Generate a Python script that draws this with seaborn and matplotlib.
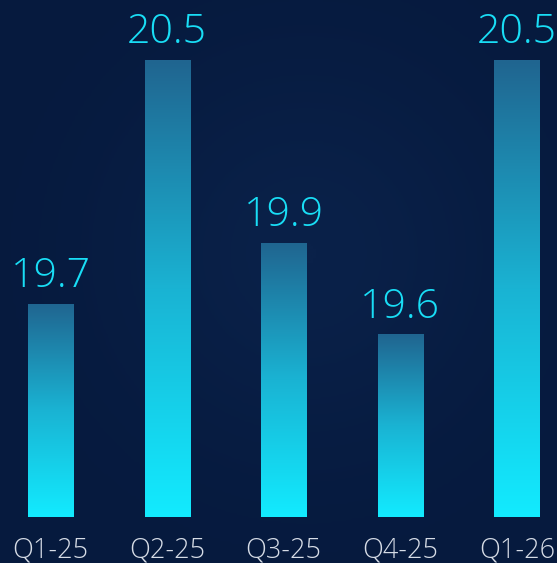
import numpy as np
import pandas as pd
import matplotlib
matplotlib.use("Agg")
import matplotlib.pyplot as plt
import seaborn as sns
from matplotlib.colors import LinearSegmentedColormap

categories = ["Q1-25", "Q2-25", "Q3-25", "Q4-25", "Q1-26"]
values = [19.7, 20.5, 19.9, 19.6, 20.5]
value_labels = ["19.7", "20.5", "19.9", "19.6", "20.5"]
baseline = 19.0

sns.set_theme(style="white")
plt.rcParams['font.family'] = ['Open Sans', 'DejaVu Sans']

bg = "#081d44"
fig = plt.figure(figsize=(5.57, 5.63), dpi=100, facecolor=bg)
# subtle background gradient
bgax = fig.add_axes([0, 0, 1, 1], zorder=-1)
yy, xx = np.mgrid[0:1:200j, 0:1:200j]
g = np.exp(-((xx - 0.55) ** 2 + (yy - 0.45) ** 2) / 0.12)
bgcmap = LinearSegmentedColormap.from_list("bg", ["#061a3e", "#0a2149"])
bgax.imshow(g, cmap=bgcmap, aspect="auto", extent=[0, 1, 0, 1], vmin=0, vmax=1)
bgax.axis("off")

ax = fig.add_axes([0, 46 / 563, 1, 517 / 563])
ax.set_facecolor("none")
df = pd.DataFrame({"cat": categories, "val": values})
sns.barplot(data=df, x="cat", y="val", ax=ax, width=0.386, color="#1a9fc8",
            saturation=1, edgecolor="none")

cmap = LinearSegmentedColormap.from_list("bar", ["#12ebff", "#1ab3d3", "#206590"])
grad = np.linspace(0, 1, 256).reshape(-1, 1)
for p, lab, v in zip(ax.patches, value_labels, values):
    p.set_y(baseline)
    p.set_height(v - baseline)
    x0, y0 = p.get_x(), p.get_y()
    w, h = p.get_width(), p.get_height()
    im = ax.imshow(grad, cmap=cmap, aspect="auto", origin="lower",
                   extent=[x0, x0 + w, y0, y0 + h], zorder=3)
    im.set_clip_path(p)
    p.set_facecolor("none")
    ax.annotate(lab, (x0 + w / 2, y0 + h), xytext=(0, 12), textcoords="offset points",
                ha="center", va="baseline", color="#19def6", fontsize=29.5,
                fontweight="light", zorder=4, annotation_clip=False)

ax.set_xlim(-0.433, 4.344)
ax.set_ylim(baseline, 20.6975)
ax.set_xlabel("")
ax.set_ylabel("")
ax.set_yticks([])
ax.tick_params(axis="x", length=0, pad=14, labelsize=19.5, labelcolor="#d6dce6")
for t in ax.get_xticklabels():
    t.set_fontweight("light")
for s in ax.spines.values():
    s.set_visible(False)

fig.savefig("out.png", dpi=100, facecolor=bg)
